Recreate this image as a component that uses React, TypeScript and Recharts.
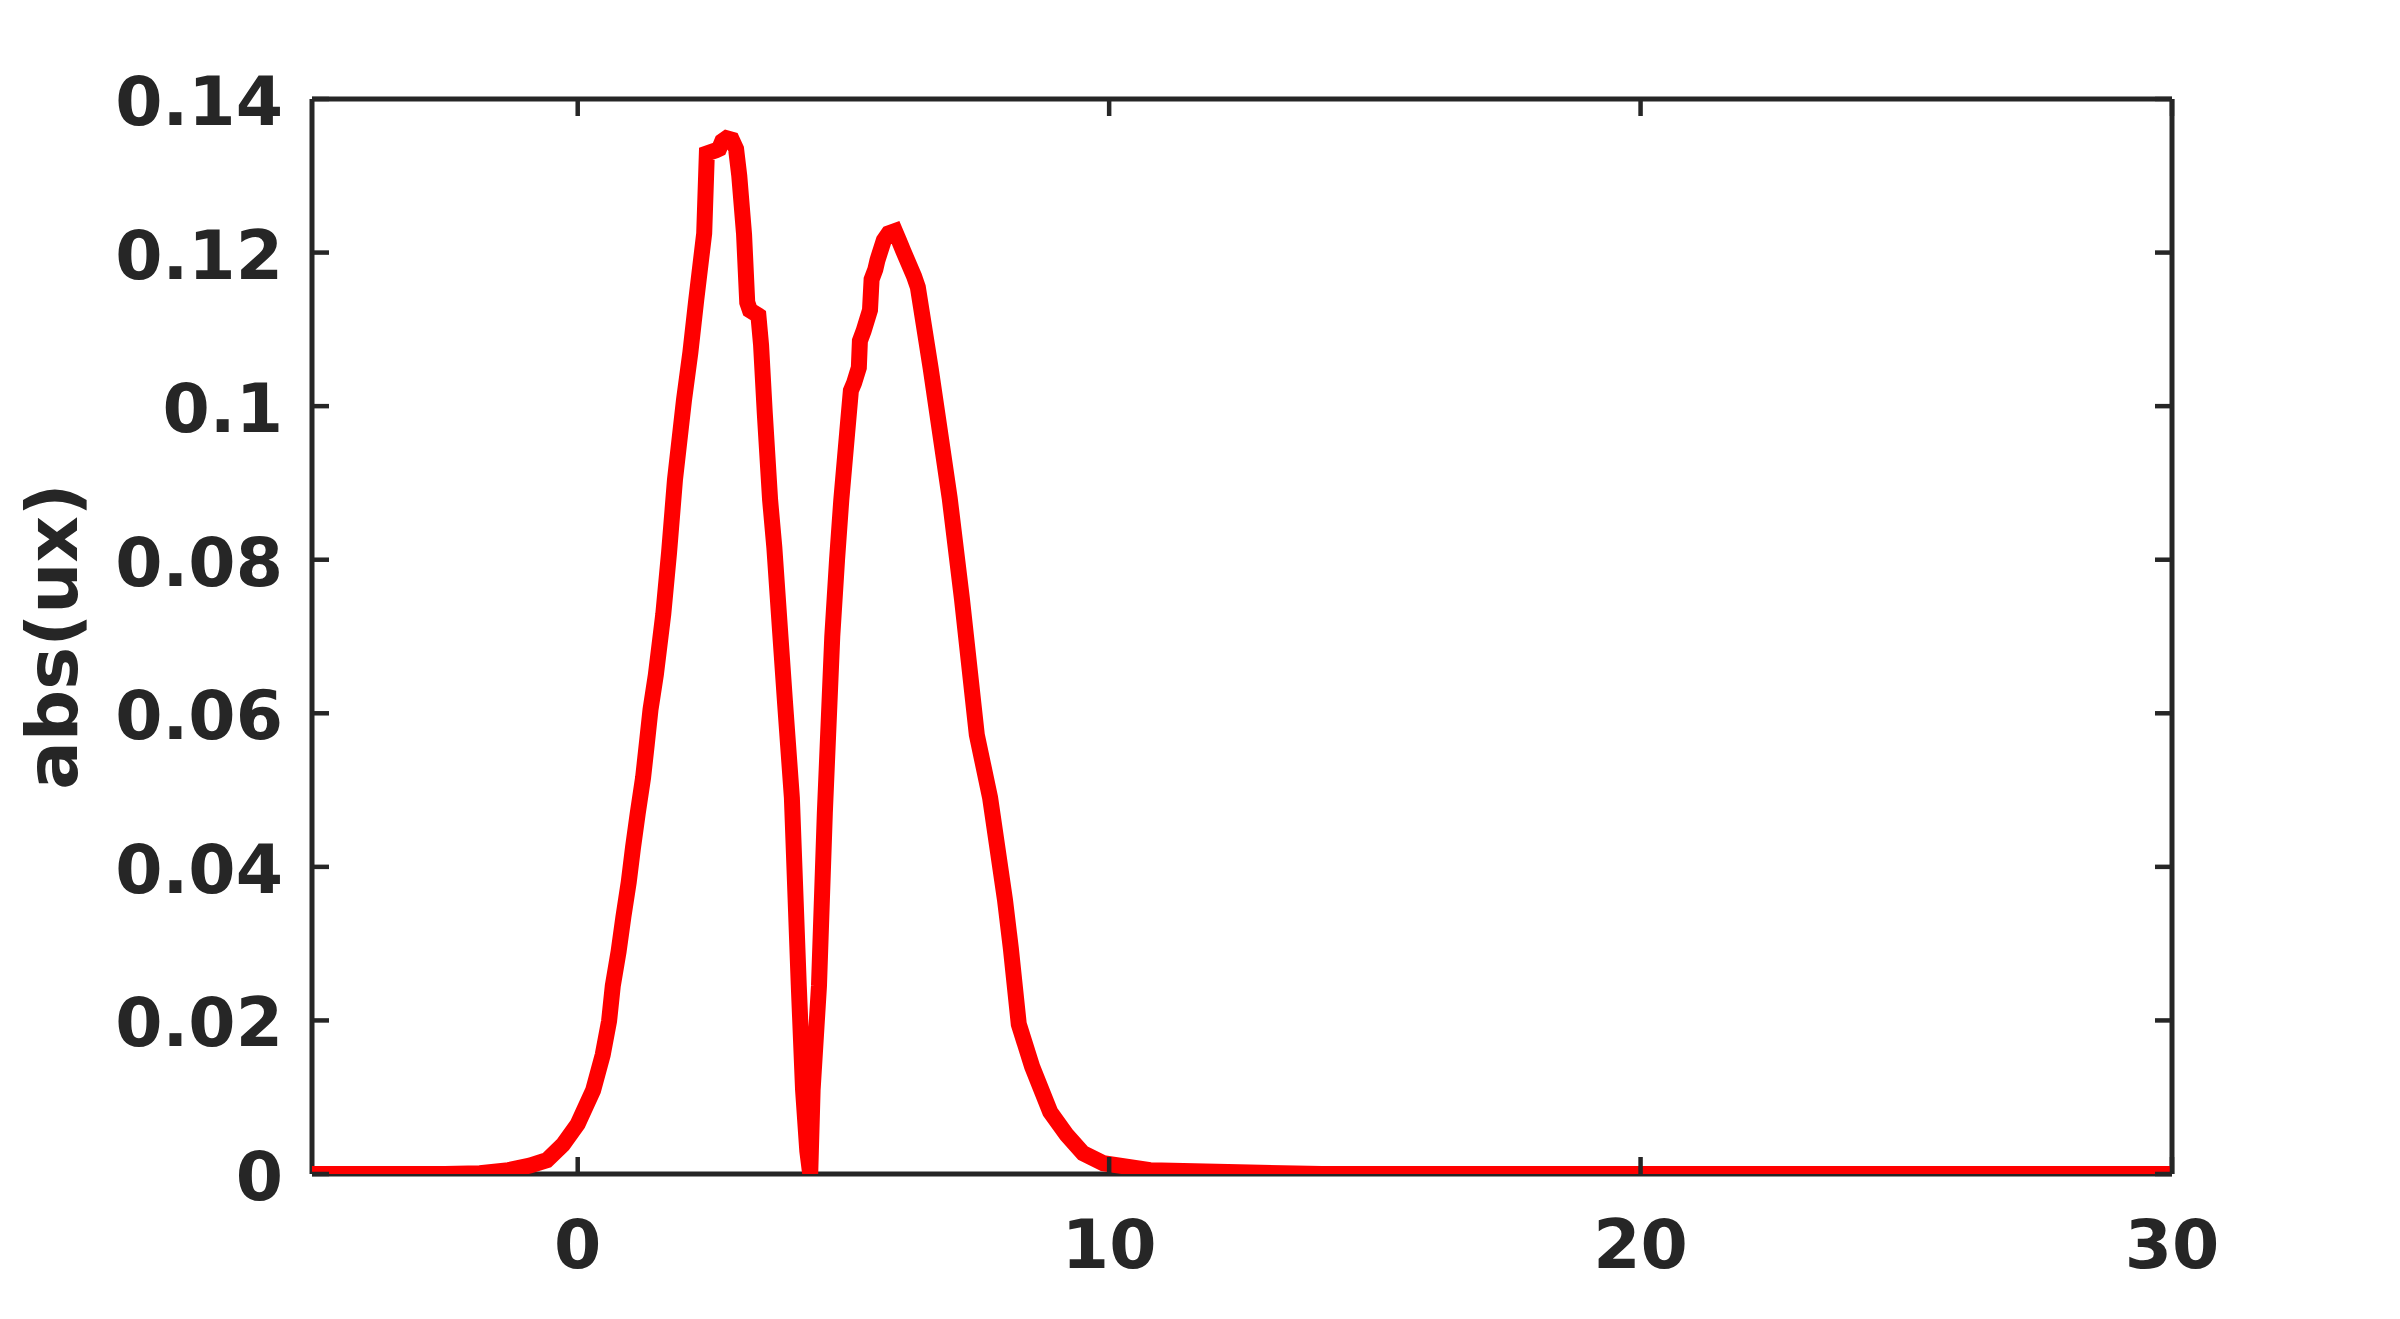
import { LineChart, Line, XAxis, YAxis } from "recharts";

// abs(ux)
const xValues = [
  -5, -2.5, -1.84, -1.3, -0.9, -0.58, -0.28, 0.0, 0.29, 0.47, 0.59, 0.66, 0.77, 0.86, 0.96, 1.04, 1.13, 1.23,
  1.3, 1.37, 1.47, 1.55, 1.61, 1.72, 1.83, 2.0, 2.12, 2.23, 2.38, 2.43, 2.6, 2.66, 2.72, 2.8, 2.9, 2.98, 3.04,
  3.13, 3.19, 3.24, 3.4, 3.45, 3.52, 3.62, 3.7, 3.81, 3.9, 4.03, 4.16, 4.24, 4.32, 4.375, 4.42, 4.54, 4.65,
  4.79, 4.88, 4.96, 5.07, 5.14, 5.2, 5.29, 5.31, 5.38, 5.5, 5.53, 5.6, 5.64, 5.76, 5.85, 5.97, 6.05, 6.12,
  6.33, 6.4, 6.64, 6.82, 7.0, 7.23, 7.51, 7.76, 8.04, 8.15, 8.3, 8.55, 8.89, 9.2, 9.51, 9.89, 10.77, 12.65,
  14, 30,
];
const absUx = [
  0, 0, 0.0001, 0.0005, 0.0011, 0.0018, 0.0038, 0.0065, 0.0109, 0.0155, 0.0199, 0.0245, 0.029, 0.0335, 0.038,
  0.0425, 0.047, 0.0516, 0.056, 0.0605, 0.065, 0.0695, 0.0729, 0.081, 0.0904, 0.1008, 0.107, 0.1138, 0.1225,
  0.1329, 0.1333, 0.1335, 0.1345, 0.1349, 0.1347, 0.1335, 0.13, 0.1224, 0.1135, 0.1125, 0.1118, 0.108, 0.0991,
  0.0878, 0.0816, 0.0705, 0.0615, 0.049, 0.0245, 0.011, 0.003, 0, 0.0109, 0.0245, 0.047, 0.07, 0.08, 0.0878,
  0.0965, 0.102, 0.103, 0.105, 0.1085, 0.1098, 0.1125, 0.1165, 0.1178, 0.119, 0.1216, 0.1225, 0.1228, 0.1215,
  0.1203, 0.1169, 0.1155, 0.105, 0.0965, 0.088, 0.0749, 0.0572, 0.049, 0.0357, 0.0294, 0.0195, 0.014, 0.0081,
  0.0051, 0.0027, 0.0014, 0.0005, 0.0002, 0, 0,
];
const xTicks = [0, 10, 20, 30];
const yTicks = [0, 0.02, 0.04, 0.06, 0.08, 0.1, 0.12, 0.14];

const data = xValues.map((x, i) => ({ x, v: absUx[i] }));

const ink = "#262626";
const font = { fontFamily: "DejaVu Sans", fontWeight: 700, fontSize: 68, fill: ink };
const tickLen = 17;

const BottomTick = ({ x, y, payload }: any) => (
  <g>
    <line x1={x} x2={x} y1={y} y2={y - tickLen} stroke={ink} strokeWidth={4.5} />
    <text x={x} y={y + 94} textAnchor="middle" {...font}>
      {payload.value}
    </text>
  </g>
);

const TopTick = ({ x, y }: any) => (
  <line x1={x} x2={x} y1={y} y2={y + tickLen} stroke={ink} strokeWidth={4.5} />
);

const LeftTick = ({ x, y, payload }: any) => (
  <g>
    <line x1={x} x2={x + tickLen} y1={y} y2={y} stroke={ink} strokeWidth={4.5} />
    <text x={x - 29} y={y + 26} textAnchor="end" {...font}>
      {String(payload.value)}
    </text>
  </g>
);

const RightTick = ({ x, y }: any) => (
  <line x1={x} x2={x - tickLen} y1={y} y2={y} stroke={ink} strokeWidth={4.5} />
);

const axisLine = { stroke: ink, strokeWidth: 5 };

export default function App() {
  return (
    <div style={{ position: "absolute", left: 0, top: 0, background: "#fff" }}>
      <LineChart width={2400} height={1319} data={data} margin={{ top: 98, right: 227, bottom: 0, left: 0 }}>
        <XAxis
          dataKey="x"
          type="number"
          domain={[-5, 30]}
          ticks={xTicks}
          allowDataOverflow
          height={145}
          tickSize={0}
          tickMargin={0}
          tickLine={false}
          axisLine={axisLine}
          tick={<BottomTick />}
          interval={0}
        />
        <XAxis
          xAxisId="top"
          dataKey="x"
          orientation="top"
          type="number"
          domain={[-5, 30]}
          ticks={xTicks}
          allowDataOverflow
          height={1}
          tickSize={0}
          tickMargin={0}
          tickLine={false}
          axisLine={axisLine}
          tick={<TopTick />}
          interval={0}
        />
        <YAxis
          type="number"
          domain={[0, 0.14]}
          ticks={yTicks}
          allowDataOverflow
          width={312}
          tickSize={0}
          tickMargin={0}
          tickLine={false}
          axisLine={axisLine}
          tick={<LeftTick />}
          interval={0}
          label={{
            content: ({ viewBox }: any) => {
              const cx = 77;
              const cy = viewBox.y + viewBox.height / 2;
              return (
                <text
                  x={cx}
                  y={cy}
                  transform={`rotate(-90 ${cx} ${cy})`}
                  textAnchor="middle"
                  {...font}
                  fontSize={72}
                >
                  abs(ux)
                </text>
              );
            },
          }}
        />
        <YAxis
          yAxisId="right"
          orientation="right"
          type="number"
          domain={[0, 0.14]}
          ticks={yTicks}
          allowDataOverflow
          width={1}
          tickSize={0}
          tickMargin={0}
          tickLine={false}
          axisLine={axisLine}
          tick={<RightTick />}
          interval={0}
        />
        {/* invisible copy so the top and right frame axes get drawn */}
        <Line
          xAxisId="top"
          yAxisId="right"
          type="linear"
          dataKey="v"
          stroke="none"
          dot={false}
          activeDot={false}
          isAnimationActive={false}
        />
        <Line
          type="linear"
          dataKey="v"
          stroke="#ff0000"
          strokeWidth={16}
          dot={false}
          activeDot={false}
          isAnimationActive={false}
          zIndex={600}
        />
      </LineChart>
    </div>
  );
}
